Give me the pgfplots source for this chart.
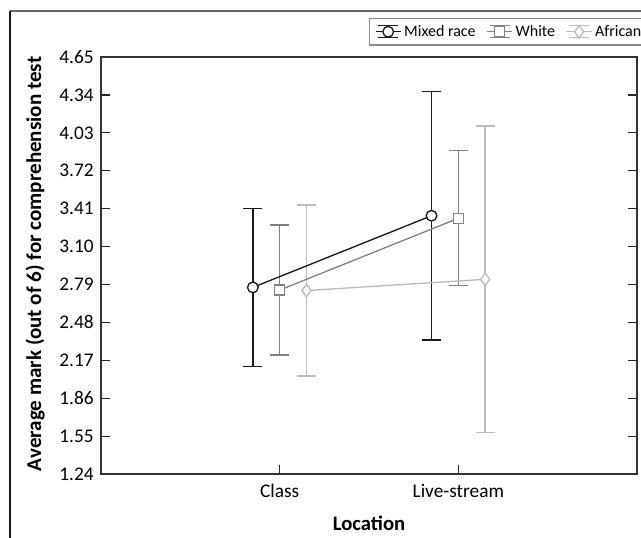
\documentclass[border=0pt]{standalone}
\usepackage{pgfplots}
\pgfplotsset{compat=1.18}
\usepackage{fontspec}
\setmainfont{Carlito}
\definecolor{cMix}{HTML}{1A1A1A}
\definecolor{cWhite}{HTML}{828282}
\definecolor{cAfr}{HTML}{BBBBBF}
\begin{document}
\begin{tikzpicture}[x=0.75pt,y=0.75pt]
\useasboundingbox (-101,-63) rectangle (540,474);
\clip (-101,-63) rectangle (540,474);
\draw[color=gray!80!black, line width=1.2pt] (-91,463) -- (545,463);
\draw[color=black!90, line width=1pt] (-91,463) -- (-91,-70);
\begin{axis}[
  scale only axis,
  width=402pt, height=312.75pt,
  at={(0,0)}, anchor=south west,
  xmin=0, xmax=3,
  ymin=1.24, ymax=4.65,
  xtick={1,2}, xticklabels={Class,Live-stream},
  xtick pos=left,
  ytick={1.24,1.55,1.86,2.17,2.48,2.79,3.10,3.41,3.72,4.03,4.34,4.65},
  yticklabel style={xshift=-2pt, /pgf/number format/.cd,fixed,fixed zerofill,precision=2},
  /pgf/number format/assume math mode=true,
  tick align=inside,
  major tick length=7pt,
  tick style={color=black!85, line width=0.9pt},
  axis line style={color=black!80, line width=1pt},
  ticklabel style={font=\fontsize{14.5}{17}\selectfont},
  xticklabel style={yshift=-4pt},
  xlabel={\textbf{Location}},
  ylabel={\textbf{Average mark (out of 6) for comprehension test}},
  xlabel style={font=\fontsize{15.5}{18}\selectfont, at={(axis description cs:0.5,-0.1175)}, anchor=center},
  ylabel style={font=\fontsize{15.8}{18}\selectfont, at={(axis description cs:-0.123,0.504)}, anchor=center},
  legend columns=3,
  legend style={at={(axis description cs:0.5,1.0935)}, anchor=north west,
    draw=gray!90, line width=0.8pt, font=\fontsize{12}{14}\selectfont,
    /tikz/every even column/.append style={column sep=6pt},
    inner ysep=3pt, inner xsep=4pt},
  legend image code/.code={
    \draw[#1,mark=none] (0pt,0pt) -- (19pt,0pt);
    \draw[#1,mark=none] (9.5pt,-4.5pt) -- (9.5pt,4.5pt);
    \draw[#1,mark=none] (2pt,4.5pt) -- (17pt,4.5pt);
    \draw[#1,mark=none] (2pt,-4.5pt) -- (17pt,-4.5pt);
    \draw[#1,only marks] plot coordinates {(9.5pt,0pt)};
  },
]
% error bars first (behind markers)
\addplot[forget plot, draw=none, mark=none,
  error bars/.cd, y dir=both, y explicit,
  error mark options={rotate=90, mark size=7.1pt, line width=1pt, draw=cMix},
  error bar style={line width=1pt, draw=cMix}]
  table[x=x, y=y, y error=e] {
x y e
0.85 2.766 0.647
1.85 3.352 1.015
};
\addplot[forget plot, draw=none, mark=none,
  error bars/.cd, y dir=both, y explicit,
  error mark options={rotate=90, mark size=7.1pt, line width=1pt, draw=cWhite},
  error bar style={line width=1pt, draw=cWhite}]
  table[x=x, y=y, y error=e] {
x y e
1.00 2.744 0.532
2.00 3.331 0.552
};
\addplot[forget plot, draw=none, mark=none,
  error bars/.cd, y dir=both, y explicit,
  error mark options={rotate=90, mark size=7.1pt, line width=1pt, draw=cAfr},
  error bar style={line width=1pt, draw=cAfr}]
  table[x=x, y=y, y error=e] {
x y e
1.15 2.740 0.699
2.15 2.832 1.254
};
% lines and markers
\addplot[cMix, line width=1pt, mark=*, mark size=4pt, mark options={fill=white, draw=cMix, solid, line width=1pt}]
  table[x=x, y=y] {
x y
0.85 2.766
1.85 3.352
};
\addlegendentry{Mixed race}
\addplot[cWhite, line width=1pt, mark=square*, mark size=3.8pt, mark options={fill=white, draw=cWhite, solid, line width=1pt}]
  table[x=x, y=y] {
x y
1.00 2.744
2.00 3.331
};
\addlegendentry{White}
\addplot[cAfr, line width=1pt, mark=diamond*, mark size=4.6pt, mark options={fill=white, draw=cAfr, solid, line width=1pt}]
  table[x=x, y=y] {
x y
1.15 2.740
2.15 2.832
};
\addlegendentry{African}
\end{axis}
\end{tikzpicture}
\end{document}
